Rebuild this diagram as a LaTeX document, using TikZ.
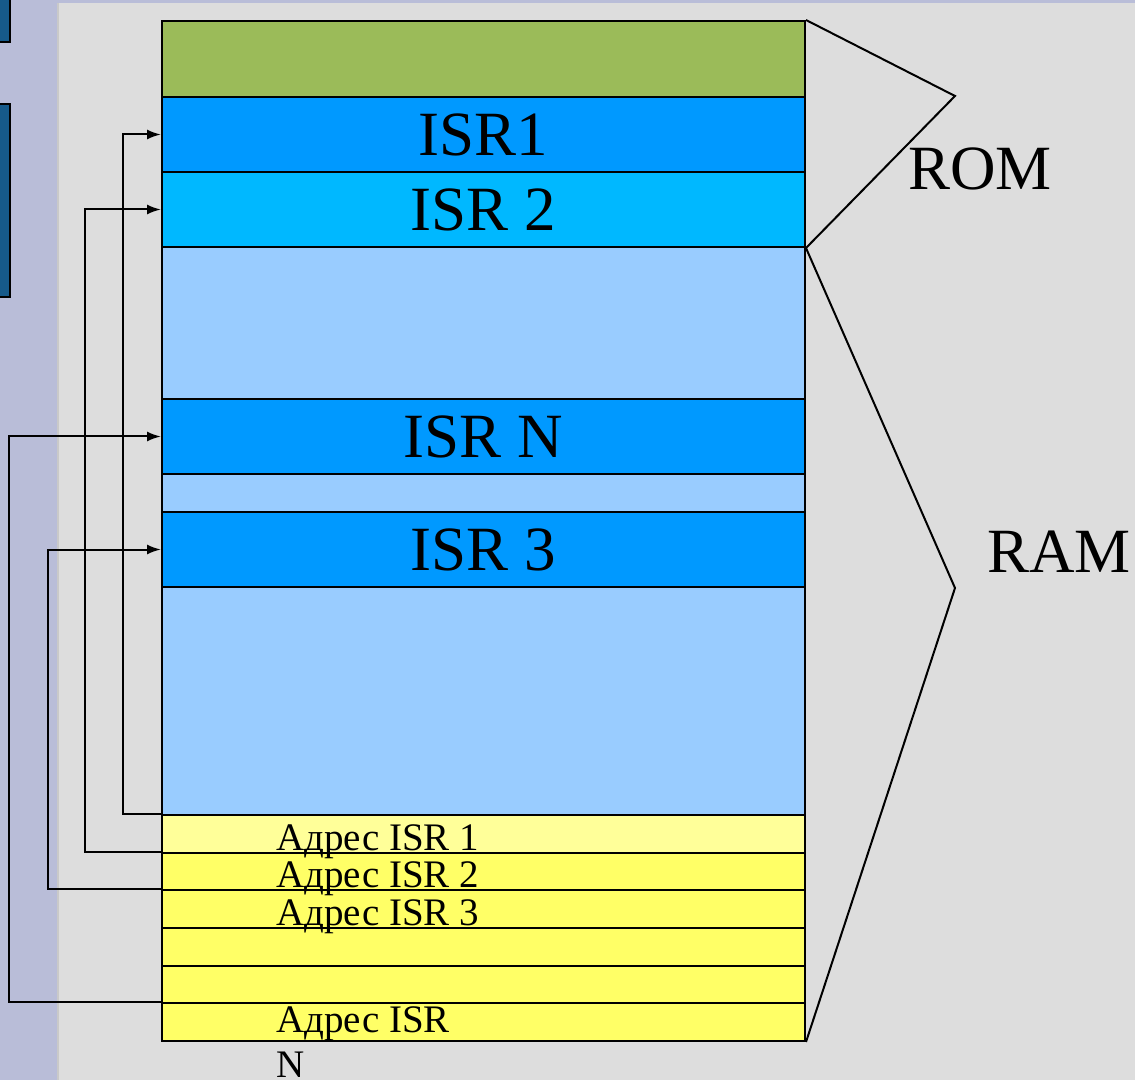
\documentclass[tikz,border=0pt]{standalone}
\usepackage{fontspec}
\setmainfont{Liberation Serif}
\usetikzlibrary{arrows.meta}
\definecolor{slidebg}{HTML}{B9BDD8}
\definecolor{panelbg}{HTML}{DDDDDD}
\definecolor{paneledge}{HTML}{C9C9C9}
\definecolor{tabblue}{HTML}{165A8A}
\definecolor{romgreen}{HTML}{9BBB59}
\definecolor{isrblue}{HTML}{0099FF}
\definecolor{isrcyan}{HTML}{00B8FF}
\definecolor{freeblue}{HTML}{99CCFF}
\definecolor{paleyellow}{HTML}{FFFF99}
\definecolor{adryellow}{HTML}{FFFF66}
\begin{document}
\begin{tikzpicture}[x=0.5pt,y=-0.5pt,
  cell/.style={draw,line width=1pt,anchor=north west,inner sep=0pt,
    minimum width=321.5pt,font=\fontsize{31.5}{36}\selectfont},
  adr/.style={anchor=base west,inner sep=0pt,align=left,
    font=\fontsize{19.5}{22.5}\selectfont},
  big/.style={anchor=base west,inner sep=0pt,font=\fontsize{31.5}{36}\selectfont},
  link/.style={line width=1pt,-{Latex[length=7pt,width=5pt]}}]
\useasboundingbox (0,0) rectangle (1135,1080);
% background
\fill[slidebg] (0,0) rectangle (1135,1080);
\fill[panelbg] (57,3) rectangle (1135,1080);
\draw[paneledge,line width=1.2pt] (58,3) -- (58,1080);
\filldraw[fill=tabblue,line width=1pt] (-5,-5) rectangle (10,42);
\filldraw[fill=tabblue,line width=1pt] (-5,104) rectangle (10,297);
% memory map
\node[cell,fill=romgreen,minimum height=38pt] (rom) at (161,20) {};
\node[cell,fill=isrblue,minimum height=37.5pt] (isra) at (161,96) {ISR1};
\node[cell,fill=isrcyan,minimum height=37.5pt] (isrb) at (161,171) {ISR 2};
\node[cell,fill=freeblue,minimum height=76pt] (freea) at (161,246) {};
\node[cell,fill=isrblue,minimum height=37.5pt] (isrn) at (161,398) {ISR N};
\node[cell,fill=freeblue,minimum height=19pt] (freeb) at (161,473) {};
\node[cell,fill=isrblue,minimum height=37.5pt] (isrc) at (161,511) {ISR 3};
\node[cell,fill=freeblue,minimum height=114pt] (freec) at (161,586) {};
% vector table
\node[cell,fill=paleyellow,minimum height=18.83pt] (adra) at (161,814) {};
\node[cell,fill=adryellow,minimum height=18.83pt] (adrb) at (161,851.7) {};
\node[cell,fill=adryellow,minimum height=18.83pt] (adrc) at (161,889.3) {};
\node[cell,fill=adryellow,minimum height=18.83pt] (adrd) at (161,927) {};
\node[cell,fill=adryellow,minimum height=18.83pt] (adre) at (161,964.7) {};
\node[cell,fill=adryellow,minimum height=18.83pt] (adrf) at (161,1002.3) {};
\node[adr] (ta) at (276,850) {Адрес ISR 1};
\node[adr] (tb) at (276,887) {Адрес ISR 2};
\node[adr] (tc) at (276,925) {Адрес ISR 3};
\node[adr] (tn) at (276,1077) {Адрес ISR\\N};
% pointers
\draw[link] (adra.north west) -- ++(-38,0) |- (isra.west);
\draw[link] (adrb.north west) -- ++(-76,0) |- (isrb.west);
\draw[link] (adrc.north west) -- ++(-113,0) |- (isrc.west);
\draw[link] (adrf.north west) -- ++(-152,0) |- (isrn.west);
% regions
\coordinate (romtip) at (955,96);
\coordinate (ramtip) at (955,588);
\draw[line width=1pt] (rom.north east) -- (romtip) -- (isrb.south east);
\draw[line width=1pt] (isrb.south east) -- (ramtip) -- (adrf.south east);
\node[big] (romlbl) at (908,190) {ROM};
\node[big] (ramlbl) at (987,572) {RAM};
\end{tikzpicture}
\end{document}
